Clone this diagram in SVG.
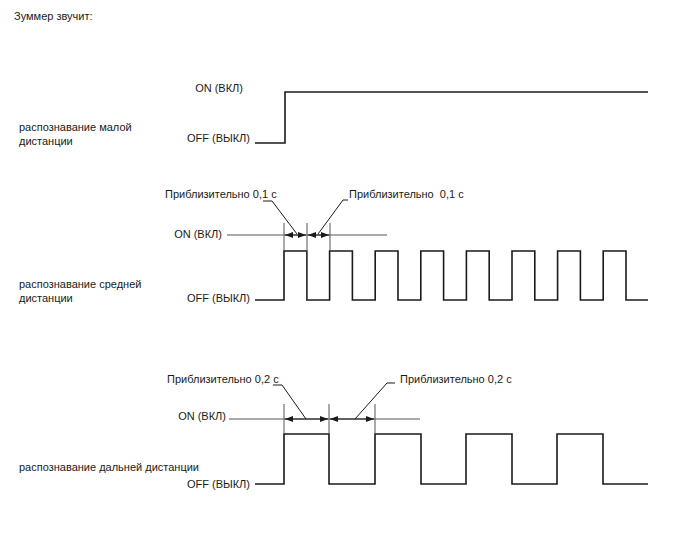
<svg xmlns="http://www.w3.org/2000/svg" width="688" height="560" viewBox="0 0 688 560">
<style>
text{font-family:"Liberation Sans",Arial,sans-serif;font-size:11px;fill:#1a1a1a}
.sig{fill:none;stroke:#1a1a1a;stroke-width:1.6}
.ref{fill:none;stroke:#555;stroke-width:1}
.ld{fill:none;stroke:#1a1a1a;stroke-width:1}
.ar{fill:#1a1a1a}
</style>
<defs>
<marker id="ah" viewBox="0 0 8 6" refX="8" refY="3" markerWidth="8" markerHeight="6" orient="auto-start-reverse" markerUnits="userSpaceOnUse"><path d="M0,0 L8,3 L0,6 Z" class="ar"/></marker>
</defs>
<text x="14" y="20">Зуммер звучит:</text>

<g id="short">
<text x="19" y="131">распознавание малой</text>
<text x="19" y="145">дистанции</text>
<text x="243" y="92" text-anchor="end">ON (ВКЛ)</text>
<text x="250" y="142" text-anchor="end">OFF (ВЫКЛ)</text>
<path class="sig" d="M255,143 H285 V92 H648"/>
</g>

<g id="medium">
<text x="19" y="288">распознавание средней</text>
<text x="19" y="302">дистанции</text>
<text x="222" y="238" text-anchor="end">ON (ВКЛ)</text>
<text x="250" y="302" text-anchor="end">OFF (ВЫКЛ)</text>
<path class="sig" d="M255,300 H284 V251 H306.8 V300 H329.6 V251 H352.4 V300 H375.2 V251 H398 V300 H420.8 V251 H443.6 V300 H466.4 V251 H489.2 V300 H512 V251 H534.8 V300 H557.6 V251 H580.4 V300 H603.2 V251 H626 V300 H648"/>
<text x="165" y="198">Приблизительно 0,1 с</text>
<text x="349" y="198">Приблизительно&#160; 0,1 с</text>
</g>

<g id="long">
<text x="19" y="471">распознавание дальней дистанции</text>
<text x="226" y="420" text-anchor="end">ON (ВКЛ)</text>
<text x="250" y="488" text-anchor="end">OFF (ВЫКЛ)</text>
<path class="sig" d="M255,484 H284 V434 H329 V484 H375 V434 H421 V484 H466 V434 H512 V484 H557 V434 H603 V484 H648"/>
<text x="167" y="383">Приблизительно 0,2 с</text>
<text x="400" y="383">Приблизительно 0,2 с</text>
</g>

<g id="connectors">
<path class="ref" d="M227,235 H387"/>
<path class="ref" d="M284,223 V251 M307,223 V300 M330,223 V251"/>
<path class="ld" d="M285,235 H306" marker-start="url(#ah)" marker-end="url(#ah)"/>
<path class="ld" d="M308,235 H329" marker-start="url(#ah)" marker-end="url(#ah)"/>
<path class="ld" d="M263,201 H272 L297,234"/>
<path class="ld" d="M348,200 H343 L318,234"/>

<path class="ref" d="M229,419 H420"/>
<path class="ref" d="M284,404 V434 M329,404 V434 M375,404 V434"/>
<path class="ld" d="M285,419 H328" marker-start="url(#ah)" marker-end="url(#ah)"/>
<path class="ld" d="M330,419 H374" marker-start="url(#ah)" marker-end="url(#ah)"/>
<path class="ld" d="M273,385 H282 L306,419"/>
<path class="ld" d="M395,383 H387 L355,419"/>
</g>
</svg>
